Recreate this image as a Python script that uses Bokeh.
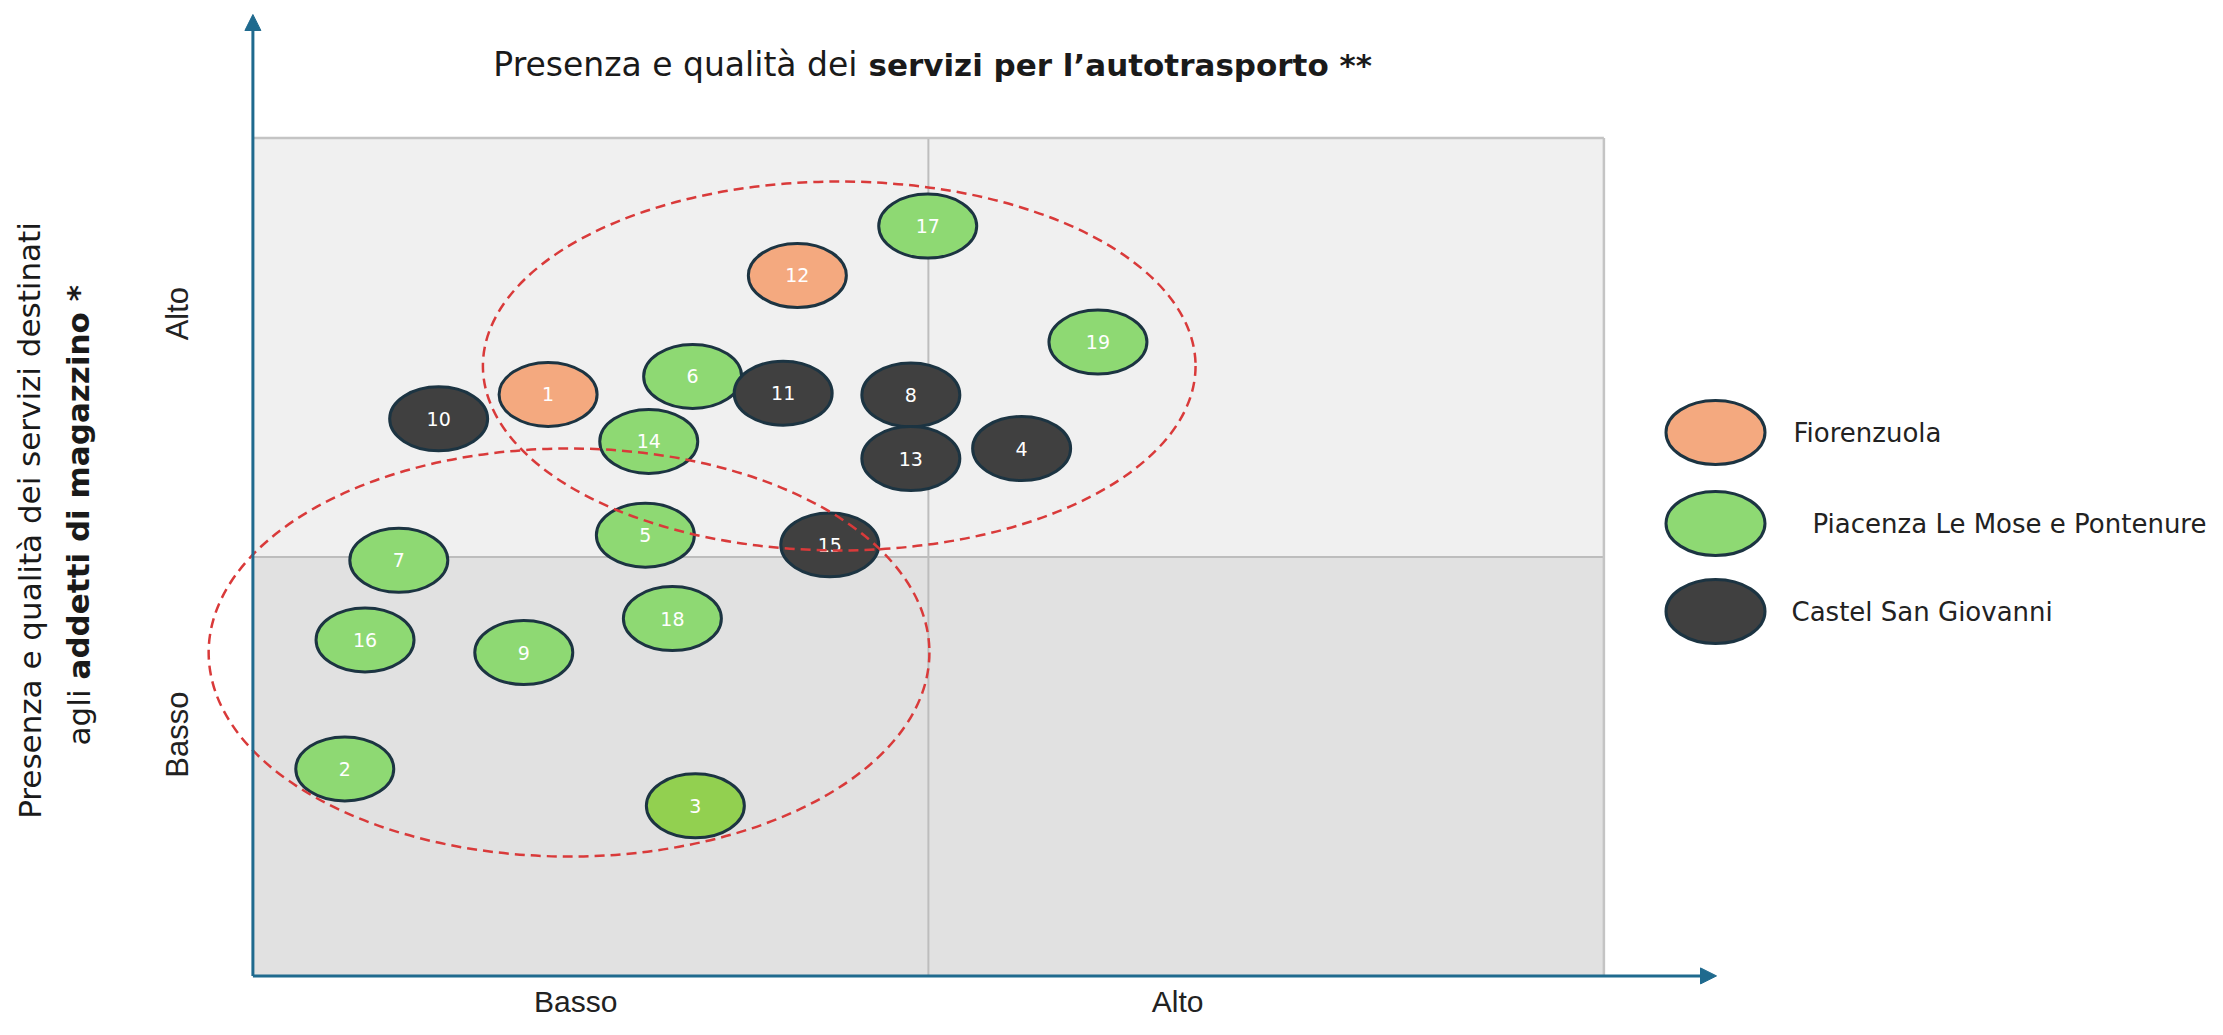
from bokeh.plotting import figure
from bokeh.models import Arrow, NormalHead, ColumnDataSource
from bokeh.core.properties import value
from bokeh.embed import file_html
from bokeh.resources import INLINE

# ---------------- data ----------------
point_ids = ["1", "2", "3", "4", "5", "6", "7", "8", "9", "10",
             "11", "12", "13", "14", "15", "16", "17", "18", "19"]
point_x = [0.437, 0.136, 0.655, 1.138, 0.581, 0.651, 0.216, 0.974, 0.401, 0.275,
           0.785, 0.806, 0.974, 0.586, 0.854, 0.166, 0.999, 0.621, 1.251]
point_y = [1.388, 0.494, 0.406, 1.259, 1.052, 1.431, 0.992, 1.387, 0.772, 1.330,
           1.391, 1.672, 1.235, 1.276, 1.029, 0.802, 1.790, 0.853, 1.513]
point_area = ["F", "P", "P", "C", "P", "P", "P", "C", "P", "C",
              "C", "F", "C", "P", "C", "P", "P", "P", "P"]

legend_keys = ["F", "P", "C"]
legend_labels = ["Fiorenzuola", "Piacenza Le Mose e Pontenure", "Castel San Giovanni"]

x_tick_pos = [0.478, 1.369]
x_tick_labels = ["Basso", "Alto"]
y_tick_pos = [0.576, 1.581]
y_tick_labels = ["Basso", "Alto"]

cluster_x = [0.868, 0.468]
cluster_y = [1.456, 0.772]
cluster_w = [1.055, 1.067]
cluster_h = [0.881, 0.974]

title_normal = "Presenza e qualità dei"
title_bold = "servizi per l\u2019autotrasporto **"
ytitle_line1 = "Presenza e qualità dei servizi destinati"
ytitle_line2_normal = "agli"
ytitle_line2_bold = "addetti di magazzino *"

# ---------------- styles / layout ----------------
AREA_COLORS = {"F": "#F4A97F", "P": "#8ED973", "C": "#404040"}
SPECIAL_COLORS = {"3": "#92D050"}
EDGE = "#1C3442"
BLUE = "#1F6A8E"
RED = "#D93A3A"

W, H = 2207, 1019
X0, SX = 252.4, 675.5      # picture px of x=0, px per x unit
Y0, SY = 975.4, 418.9      # picture px of y=0, px per y unit


def dx(px):
    return (px - X0) / SX


def dy(px):
    return (Y0 - px) / SY


p = figure(width=W, height=H, output_backend="svg", toolbar_location=None,
           x_range=(dx(0), dx(W)), y_range=(dy(H), dy(0)),
           x_axis_location=None, y_axis_location=None, min_border=0,
           background_fill_color="white", border_fill_color="white")
p.outline_line_color = None
p.grid.visible = False

# quadrants
p.quad(left=[0, 1], right=[1, 2], bottom=[1, 1], top=[2, 2],
       fill_color="#F0F0F0", line_color=None)
p.quad(left=[0, 1], right=[1, 2], bottom=[0, 0], top=[1, 1],
       fill_color="#E1E1E1", line_color=None)
p.segment(x0=[1, 0], y0=[0, 1], x1=[1, 2], y1=[2, 1], line_color="#BDBDBD", line_width=2)
p.segment(x0=[0, 2], y0=[2, 0], x1=[2, 2], y1=[2, 2], line_color="#C4C4C4", line_width=2.5)

# axes with arrows
p.add_layout(Arrow(end=NormalHead(size=16, fill_color=BLUE, line_color=BLUE),
                   x_start=0, y_start=0, x_end=0, y_end=dy(14),
                   line_color=BLUE, line_width=3))
p.add_layout(Arrow(end=NormalHead(size=16, fill_color=BLUE, line_color=BLUE),
                   x_start=0, y_start=0, x_end=dx(1716), y_end=0,
                   line_color=BLUE, line_width=3))

# points
fills = [SPECIAL_COLORS.get(i, AREA_COLORS[a]) for i, a in zip(point_ids, point_area)]
src = ColumnDataSource(dict(x=point_x, y=point_y, id=point_ids, fill=fills))
p.ellipse(x="x", y="y", width=98, height=64, width_units="screen", height_units="screen",
          fill_color="fill", line_color=EDGE, line_width=3, source=src)
p.text(x="x", y="y", text="id", source=src, text_align="center", text_baseline="middle",
       text_color="white", text_font=value("DejaVu Sans"), text_font_size="19px")

# cluster outlines
p.ellipse(x=cluster_x, y=cluster_y, width=cluster_w, height=cluster_h,
          fill_color=None, line_color=RED, line_width=2.5, line_dash="10 6")

# legend
leg_x = dx(1715)
leg_y = [dy(432), dy(523), dy(611)]
leg_text_x = [dx(1793), dx(1812), dx(1791)]
p.ellipse(x=[leg_x] * 3, y=leg_y, width=99, height=64, width_units="screen",
          height_units="screen", fill_color=[AREA_COLORS[k] for k in legend_keys],
          line_color=EDGE, line_width=3)
p.text(x=leg_text_x, y=leg_y, text=legend_labels, text_align="left",
       text_baseline="middle", text_color="#222222", text_font=value("DejaVu Sans"),
       text_font_size="26px")

# tick labels
p.text(x=x_tick_pos, y=[dy(1001)] * 2, text=x_tick_labels, text_align="center",
       text_baseline="middle", text_color="#222222", text_font=value("Liberation Sans"),
       text_font_size="30px")
p.text(x=[dx(177)] * 2, y=y_tick_pos, text=y_tick_labels, angle=1.5708,
       text_align="center", text_baseline="middle", text_color="#222222",
       text_font=value("Liberation Sans"), text_font_size="31px")

# top title (normal + bold)
p.text(x=[dx(857)], y=[dy(64)], text=[title_normal], text_align="right",
       text_baseline="middle", text_color="#1A1A1A", text_font=value("DejaVu Sans"),
       text_font_size="33px")
p.text(x=[dx(868)], y=[dy(64)], text=[title_bold], text_align="left",
       text_baseline="middle", text_color="#1A1A1A", text_font=value("DejaVu Sans"),
       text_font_size="31px", text_font_style="bold")

# left (y) title, rotated
p.text(x=[dx(29)], y=[dy(520)], text=[ytitle_line1], angle=1.5708, text_align="center",
       text_baseline="middle", text_color="#1A1A1A", text_font=value("DejaVu Sans"),
       text_font_size="31px")
p.text(x=[dx(78)], y=[dy(689)], text=[ytitle_line2_normal], angle=1.5708, text_align="right",
       text_baseline="middle", text_color="#1A1A1A", text_font=value("DejaVu Sans"),
       text_font_size="31px")
p.text(x=[dx(78)], y=[dy(679)], text=[ytitle_line2_bold], angle=1.5708, text_align="left",
       text_baseline="middle", text_color="#1A1A1A", text_font=value("DejaVu Sans"),
       text_font_size="31px", text_font_style="bold")

open("out.html", "w").write(file_html(p, INLINE))
